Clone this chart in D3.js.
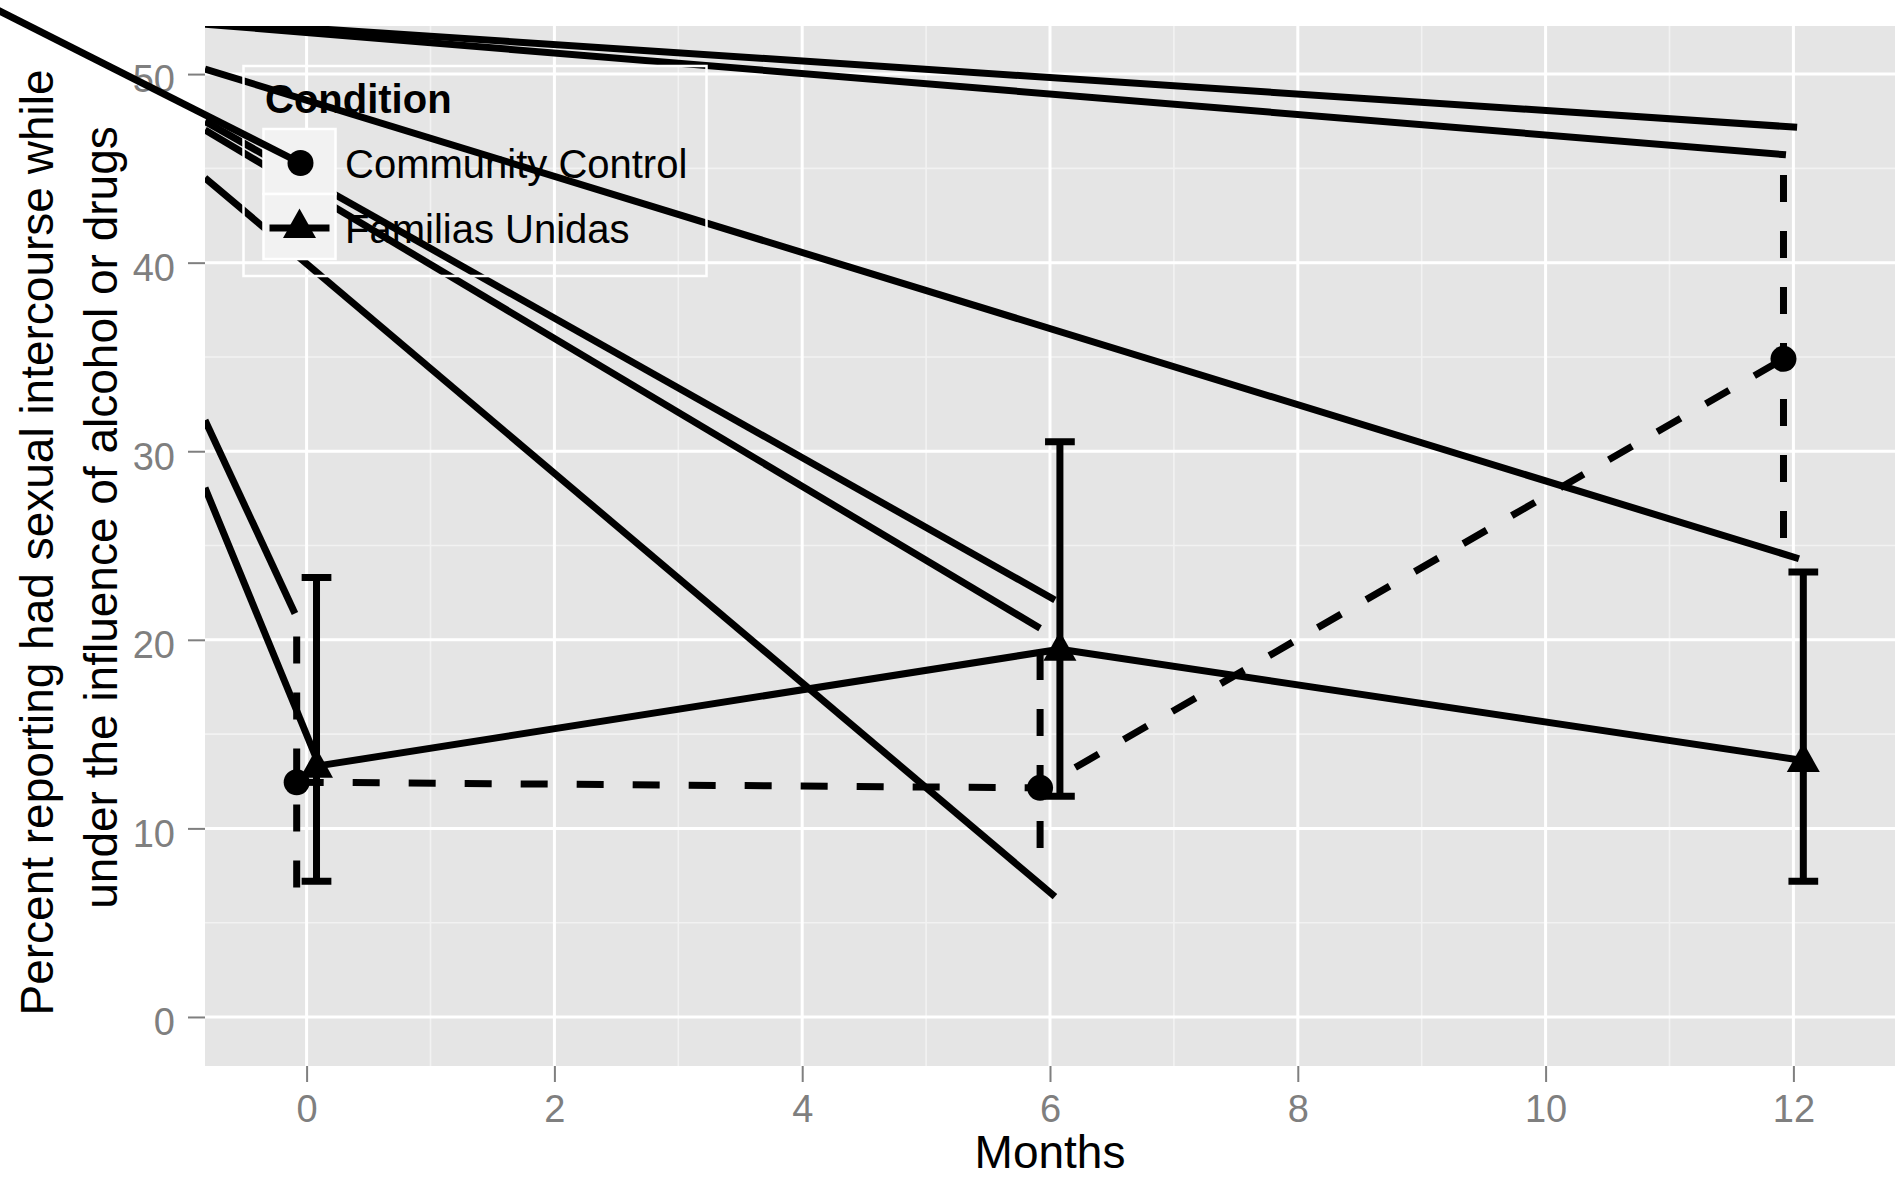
<!DOCTYPE html>
<html><head><meta charset="utf-8">
<script src="https://cdn.jsdelivr.net/npm/d3@7"></script>
<style>
body{margin:0;background:#fff}
svg{display:block}
text{font-family:"Liberation Sans",Arial,Helvetica,sans-serif}
</style>
</head><body>
<svg id="chart" width="1895" height="1177"></svg>
<script>
// ---------------- data ----------------
const months = [0, 6, 12];
const conditions = ["Community Control", "Familias Unidas"];
const ccMean = [12.45, 12.15, 34.9];
const ccLow  = [6.86, 8.96, 25.4];
const ccHigh = [21.4, 20.6, 45.7];
const fuMean = [13.3, 19.5, 13.6];
const fuLow  = [7.2, 11.7, 7.2];
const fuHigh = [23.3, 30.5, 23.6];
const xTicks = [0, 2, 4, 6, 8, 10, 12];
const yTicks = [0, 10, 20, 30, 40, 50];
const xTitle = "Months";
const yTitleLines = ["Percent reporting had sexual intercourse while", "under the influence of alcohol or drugs"];
const legendTitle = "Condition";
// stray segments seen in the picture (start -> end, data units)
const strayX0 = [-0.82, -0.82, -0.82, -0.82, -0.82, -0.82, -0.82, -0.82];
const strayY0 = [52.8, 52.65, 50.27, 47.49, 47.04, 44.5, 31.65, 28.06];
const strayX1 = [12.03, 11.94, 12.045, 6.04, 5.92, 6.04, -0.094, 0.07];
const strayY1 = [47.18, 45.72, 24.3, 22.11, 20.61, 6.38, 21.4, 13.85];
const keyStrayStart = [-2.6, 53.75];

// ---------------- layout ----------------
const svg = d3.select("#chart");
const P = {left: 205, right: 1895, top: 26, bottom: 1066};
const x = d3.scaleLinear().domain([-0.82, 12.82]).range([P.left, P.right]);
const y = d3.scaleLinear().domain([-2.6, 52.55]).range([P.bottom, P.top]);
const dodge = 0.08;
const LW = 7;
const DASH = "27,29";
const ink = "#000";

svg.append("rect").attr("x", P.left).attr("y", P.top)
  .attr("width", P.right - P.left).attr("height", P.bottom - P.top).attr("fill", "#E5E5E5");

const defs = svg.append("defs");
defs.append("clipPath").attr("id", "pclip").append("rect")
  .attr("x", P.left).attr("y", P.top).attr("width", P.right - P.left).attr("height", P.bottom - P.top);

// grid
const xMinor = d3.range(xTicks.length - 1).map(i => (xTicks[i] + xTicks[i + 1]) / 2);
const yMinor = d3.range(yTicks.length - 1).map(i => (yTicks[i] + yTicks[i + 1]) / 2);
const grid = svg.append("g");
grid.selectAll(".xmin").data(xMinor).join("line")
  .attr("x1", d => x(d)).attr("x2", d => x(d)).attr("y1", P.top).attr("y2", P.bottom)
  .attr("stroke", "#F2F2F2").attr("stroke-width", 1.6);
grid.selectAll(".ymin").data(yMinor).join("line")
  .attr("y1", d => y(d)).attr("y2", d => y(d)).attr("x1", P.left).attr("x2", P.right)
  .attr("stroke", "#F2F2F2").attr("stroke-width", 1.6);
grid.selectAll(".xmaj").data(xTicks).join("line")
  .attr("x1", d => x(d)).attr("x2", d => x(d)).attr("y1", P.top).attr("y2", P.bottom)
  .attr("stroke", "#fff").attr("stroke-width", 3);
grid.selectAll(".ymaj").data(yTicks).join("line")
  .attr("y1", d => y(d)).attr("y2", d => y(d)).attr("x1", P.left).attr("x2", P.right)
  .attr("stroke", "#fff").attr("stroke-width", 3);

// marks
const g = svg.append("g").attr("clip-path", "url(#pclip)");

// stray segments
g.selectAll(".stray").data(strayX0.map((d, i) => i)).join("line")
  .attr("x1", i => x(strayX0[i])).attr("y1", i => y(strayY0[i]))
  .attr("x2", i => x(strayX1[i])).attr("y2", i => y(strayY1[i]))
  .attr("stroke", ink).attr("stroke-width", LW);

const cc = months.map((m, i) => ({m: m - dodge, v: ccMean[i], lo: ccLow[i], hi: ccHigh[i]}));
const fu = months.map((m, i) => ({m: m + dodge, v: fuMean[i], lo: fuLow[i], hi: fuHigh[i]}));

// Community Control error bars (dashed, no caps)
g.selectAll(".ccbar").data(cc).join("line")
  .attr("x1", d => x(d.m)).attr("x2", d => x(d.m))
  .attr("y1", d => y(d.lo)).attr("y2", d => y(d.hi))
  .attr("stroke", ink).attr("stroke-width", LW).attr("stroke-dasharray", DASH);

// Familias Unidas error bars
const capW = 0.12;
g.selectAll(".fubar").data(fu).join("path")
  .attr("d", d => {
    const p = d3.path();
    p.moveTo(x(d.m - capW), y(d.hi)); p.lineTo(x(d.m + capW), y(d.hi));
    p.moveTo(x(d.m), y(d.hi)); p.lineTo(x(d.m), y(d.lo));
    p.moveTo(x(d.m - capW), y(d.lo)); p.lineTo(x(d.m + capW), y(d.lo));
    return p.toString();
  })
  .attr("fill", "none").attr("stroke", ink).attr("stroke-width", LW);

const line = d3.line().x(d => x(d.m)).y(d => y(d.v));
g.append("path").datum(cc).attr("d", line).attr("fill", "none")
  .attr("stroke", ink).attr("stroke-width", LW).attr("stroke-dasharray", DASH);
g.append("path").datum(fu).attr("d", line).attr("fill", "none")
  .attr("stroke", ink).attr("stroke-width", LW).attr("stroke-linejoin", "round");

const R = 13;
const tri = "M0,-18L16.5,11.5L-16.5,11.5Z";
g.selectAll(".ccpt").data(cc).join("circle")
  .attr("cx", d => x(d.m)).attr("cy", d => y(d.v)).attr("r", R).attr("fill", ink);
g.selectAll(".fupt").data(fu).join("path")
  .attr("d", tri).attr("transform", d => `translate(${x(d.m)},${y(d.v)})`).attr("fill", ink);

// axes
const ax = svg.append("g").attr("transform", `translate(0,${P.bottom})`)
  .call(d3.axisBottom(x).tickValues(xTicks).tickSize(16).tickPadding(13).tickFormat(d3.format("d")));
const ay = svg.append("g").attr("transform", `translate(${P.left},0)`)
  .call(d3.axisLeft(y).tickValues(yTicks).tickSize(17).tickPadding(13).tickFormat(d3.format("d")));
[ax, ay].forEach(a => {
  a.select(".domain").remove();
  a.selectAll("line").attr("stroke", "#7F7F7F").attr("stroke-width", 2);
  a.selectAll("text").attr("fill", "#7F7F7F").attr("font-size", 38)
    .attr("font-family", '"Liberation Sans",Arial,sans-serif');
});
ay.selectAll("text").attr("dy", "0.47em");

// axis titles
svg.append("text").attr("x", (P.left + P.right) / 2).attr("y", 1168)
  .attr("text-anchor", "middle").attr("font-size", 46).attr("fill", ink).text(xTitle);
const yCenters = [542.5, 517.5], yBase = [53, 117];
yTitleLines.forEach((t, i) => {
  svg.append("text").attr("transform", `translate(${yBase[i]},${yCenters[i]}) rotate(-90)`)
    .attr("text-anchor", "middle").attr("font-size", 46).attr("fill", ink).text(t);
});

// legend
const L = svg.append("g");
L.append("rect").attr("x", 243.5).attr("y", 66).attr("width", 463).attr("height", 210)
  .attr("fill", "none").attr("stroke", "#fff").attr("stroke-width", 2.5);
L.append("text").attr("x", 265).attr("y", 113.3).attr("font-size", 40).attr("font-weight", "bold")
  .attr("fill", ink).text(legendTitle);
const keyX = 263.5, keyW = 72, keyH = 65, keyY0 = 129;
conditions.forEach((c, i) => {
  const ky = keyY0 + i * keyH;
  L.append("rect").attr("x", keyX).attr("y", ky).attr("width", keyW).attr("height", keyH)
    .attr("fill", "#F2F2F2").attr("stroke", "#fff").attr("stroke-width", 2.5);
  const cx = keyX + keyW / 2, cy = ky + keyH / 2;
  if (i === 0) {
    L.append("line").attr("x1", x(keyStrayStart[0])).attr("y1", y(keyStrayStart[1]))
      .attr("x2", cx + 1).attr("y2", cy + 1.5).attr("stroke", ink).attr("stroke-width", LW);
    L.append("circle").attr("cx", cx + 1).attr("cy", cy + 1.5).attr("r", R).attr("fill", ink);
  } else {
    L.append("line").attr("x1", cx - 30).attr("x2", cx + 30).attr("y1", cy + 1.5).attr("y2", cy + 1.5)
      .attr("stroke", ink).attr("stroke-width", LW);
    L.append("path").attr("d", tri).attr("transform", `translate(${cx},${cy})`).attr("fill", ink);
  }
  L.append("text").attr("x", 345).attr("y", cy + 16.5).attr("font-size", 40).attr("fill", ink).text(c);
});
</script>
</body></html>
